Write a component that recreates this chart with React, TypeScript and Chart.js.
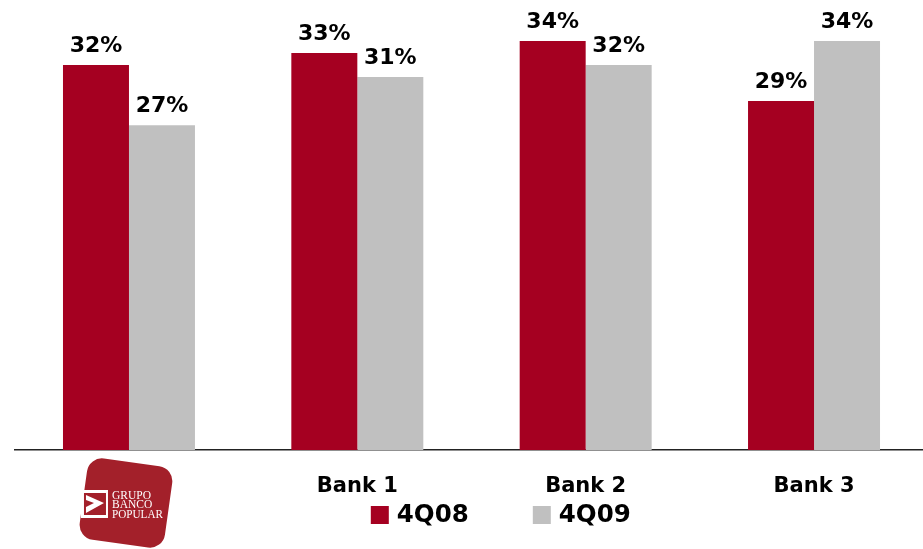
import React, { useEffect, useRef } from 'react';
import { Chart, registerables } from 'chart.js';

Chart.register(...registerables);

const categories = ['', 'Bank 1', 'Bank 2', 'Bank 3'];
const series4Q08 = [32, 33, 34, 29];
const series4Q09 = [27, 31, 32, 34];
const seriesNames = ['4Q08', '4Q09'];
const seriesColors = ['#A50021', '#C0C0C0'];
const logoLines = ['GRUPO', 'BANCO', 'POPULAR'];

const FONT = '"DejaVu Sans", Verdana, sans-serif';

const valueLabels = {
  id: 'valueLabels',
  afterDatasetsDraw(chart: any) {
    const ctx = chart.ctx;
    ctx.save();
    ctx.font = `bold 22px ${FONT}`;
    ctx.fillStyle = '#000';
    ctx.textAlign = 'center';
    ctx.textBaseline = 'alphabetic';
    chart.data.datasets.forEach((ds: any, di: number) => {
      const meta = chart.getDatasetMeta(di);
      meta.data.forEach((bar: any, i: number) => {
        ctx.fillText(`${ds.data[i]}%`, bar.x, bar.y - 13);
      });
    });
    ctx.restore();
  },
};

const logoAndLegend = {
  id: 'logoAndLegend',
  afterDraw(chart: any) {
    const ctx = chart.ctx;
    const xs = chart.scales.x;
    const cx = xs.getPixelForValue(0) - 3;
    const cy = 503;
    ctx.save();
    // logo background
    ctx.translate(cx, cy);
    ctx.rotate((8 * Math.PI) / 180);
    ctx.fillStyle = '#A3202A';
    ctx.beginPath();
    (ctx as any).roundRect(-43, -41, 86, 82, 15);
    ctx.fill();
    ctx.restore();

    ctx.save();
    const ix = cx - 45;
    const iy = 490;
    ctx.fillStyle = '#fff';
    ctx.fillRect(ix, iy, 27, 28);
    ctx.fillStyle = '#A3202A';
    ctx.fillRect(ix + 3, iy + 3, 22, 22);
    ctx.fillStyle = '#fff';
    ctx.beginPath();
    ctx.moveTo(ix + 5, iy + 5);
    ctx.lineTo(ix + 23, iy + 13);
    ctx.lineTo(ix + 5, iy + 23);
    ctx.lineTo(ix + 5, iy + 17);
    ctx.lineTo(ix + 13, iy + 13);
    ctx.lineTo(ix + 5, iy + 10);
    ctx.closePath();
    ctx.fill();
    ctx.font = `11.5px "Liberation Serif", serif`;
    ctx.textAlign = 'left';
    ctx.textBaseline = 'alphabetic';
    logoLines.forEach((t, i) => {
      ctx.fillText(t, ix + 31, iy + 8.5 + i * 9.7, 51);
    });
    ctx.restore();

    // legend
    ctx.save();
    ctx.font = `bold 24.5px ${FONT}`;
    ctx.textBaseline = 'middle';
    ctx.textAlign = 'left';
    const lx = [chart.chartArea.left + 356, chart.chartArea.left + 518];
    seriesNames.forEach((name, i) => {
      ctx.fillStyle = seriesColors[i];
      ctx.fillRect(lx[i], 506, 18, 18);
      ctx.fillStyle = '#000';
      ctx.fillText(name, lx[i] + 26, 516);
    });
    ctx.restore();
  },
};

export default function App() {
  const ref = useRef<HTMLCanvasElement | null>(null);
  useEffect(() => {
    if (!ref.current) return;
    const chart = new Chart(ref.current, {
      type: 'bar',
      data: {
        labels: categories,
        datasets: [
          { label: seriesNames[0], data: series4Q08, backgroundColor: seriesColors[0] },
          { label: seriesNames[1], data: series4Q09, backgroundColor: seriesColors[1] },
        ],
      },
      options: {
        responsive: true,
        maintainAspectRatio: false,
        animation: false,
        categoryPercentage: 0.578,
        barPercentage: 1,
        layout: { padding: { left: 14.8, right: 6.8, top: 0, bottom: 0 } },
        plugins: { legend: { display: false }, tooltip: { enabled: false } },
        scales: {
          x: {
            grid: { display: false, drawTicks: false },
            border: { display: true, color: '#222', width: 1.5 },
            ticks: {
              color: '#000',
              font: { family: FONT, size: 21, weight: 'bold' },
              padding: 24,
              maxRotation: 0,
            },
            afterFit(scale: any) {
              scale.height = 99;
            },
          },
          y: {
            display: false,
            min: 0,
            max: 37.4,
          },
        },
      },
      plugins: [valueLabels, logoAndLegend],
    } as any);
    return () => chart.destroy();
  }, []);
  return (
    <div style={{ position: 'absolute', left: 0, top: 0, width: 923, height: 549, overflow: 'hidden', background: '#fff' }}>
      <div style={{ position: 'relative', width: 935, height: 549 }}>
        <canvas ref={ref} />
      </div>
    </div>
  );
}
